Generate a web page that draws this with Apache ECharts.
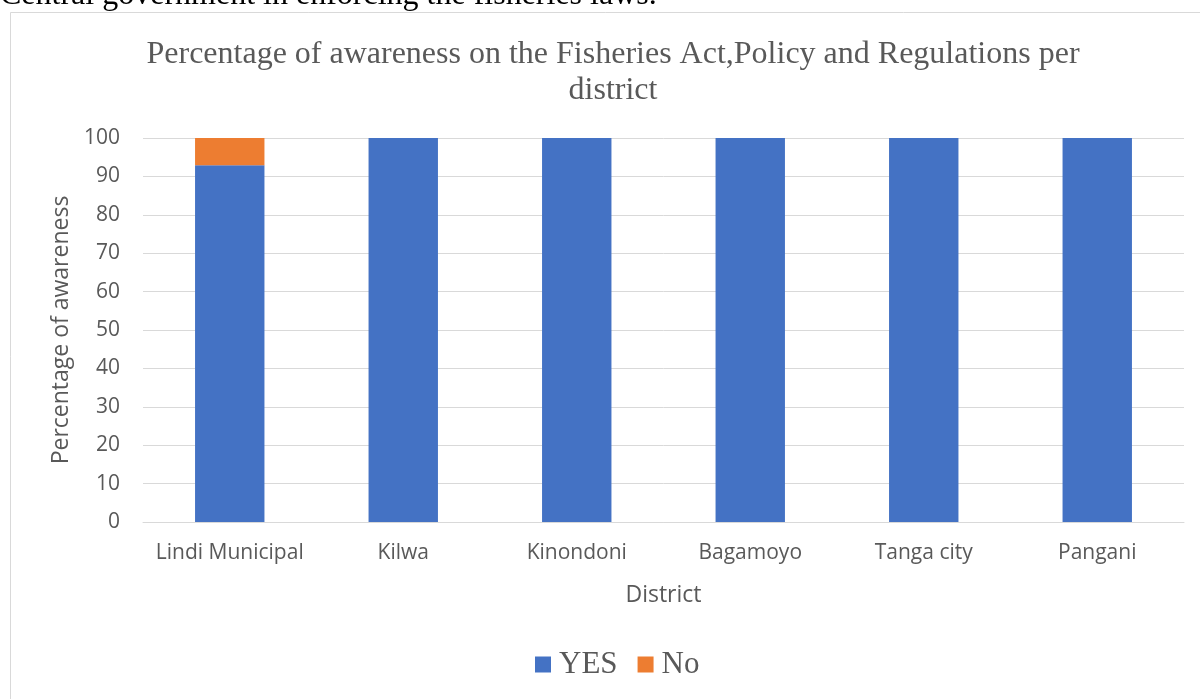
<!DOCTYPE html>
<html><head><meta charset="utf-8">
<script src="https://cdn.jsdelivr.net/npm/echarts@6/dist/echarts.min.js"></script>
<style>html,body{margin:0;padding:0;background:#fff}#c{width:1200px;height:699px}</style>
</head><body><div id="c"></div>
<script>
const categories = ["Lindi Municipal","Kilwa","Kinondoni","Bagamoyo","Tanga city","Pangani"];
const yesValues = [92.9,100,100,100,100,100];
const noValues = [7.1,0,0,0,0,0];
const yTicks = [0,10,20,30,40,50,60,70,80,90,100];

const chart = echarts.init(document.getElementById('c'), null, {renderer:'canvas'});
const sans = 'Open Sans';
const serif = 'Liberation Serif';
chart.setOption({
  animation:false,
  backgroundColor:'#fff',
  graphic:[
    {type:'rect', shape:{x:10.5,y:12.5,width:1200,height:700}, style:{fill:'none',stroke:'#d9d9d9',lineWidth:1}},
    {type:'text', x:0, y:-20, style:{text:'Central government in enforcing the fisheries laws.', font:'32px "Liberation Serif"', fill:'#000', verticalAlign:'top'}}
  ],
  title:{
    text:'Percentage of awareness on the Fisheries Act,Policy and Regulations per\ndistrict',
    left:608, textAlign:'center', top:32,
    textStyle:{fontFamily:serif, fontSize:32, fontWeight:'normal', color:'#595959', lineHeight:36}
  },
  legend:{
    bottom:14, left:530, itemWidth:16, itemHeight:16, itemGap:20,
    icon:'rect',
    textStyle:{fontFamily:serif, fontSize:31, color:'#595959', padding:[0,0,0,3]},
    data:['YES','No']
  },
  grid:{left:143, right:16, top:138, bottom:177, containLabel:false},
  xAxis:{
    type:'category', data:categories,
    name:'District', nameLocation:'middle', nameGap:62,
    nameTextStyle:{fontFamily:sans, fontSize:23, color:'#595959'},
    axisLine:{lineStyle:{color:'#d9d9d9', width:1}},
    axisTick:{show:false},
    axisLabel:{fontFamily:sans, fontSize:21, color:'#595959', margin:21, interval:0}
  },
  yAxis:{
    type:'value', min:0, max:100, interval:10,
    name:'Percentage of awareness', nameLocation:'middle', nameGap:68,
    nameTextStyle:{fontFamily:sans, fontSize:23, color:'#595959'},
    axisLine:{show:false}, axisTick:{show:false},
    axisLabel:{fontFamily:sans, fontSize:21, color:'#595959', margin:23,
      formatter:v=>yTicks.includes(v)?String(v):''},
    splitLine:{lineStyle:{color:'#d9d9d9', width:1}}
  },
  series:[
    {name:'YES', type:'bar', stack:'a', data:yesValues, barWidth:'40%', itemStyle:{color:'#4472c4'}},
    {name:'No', type:'bar', stack:'a', data:noValues, barWidth:'40%', itemStyle:{color:'#ed7d31'}}
  ]
});
</script></body></html>
